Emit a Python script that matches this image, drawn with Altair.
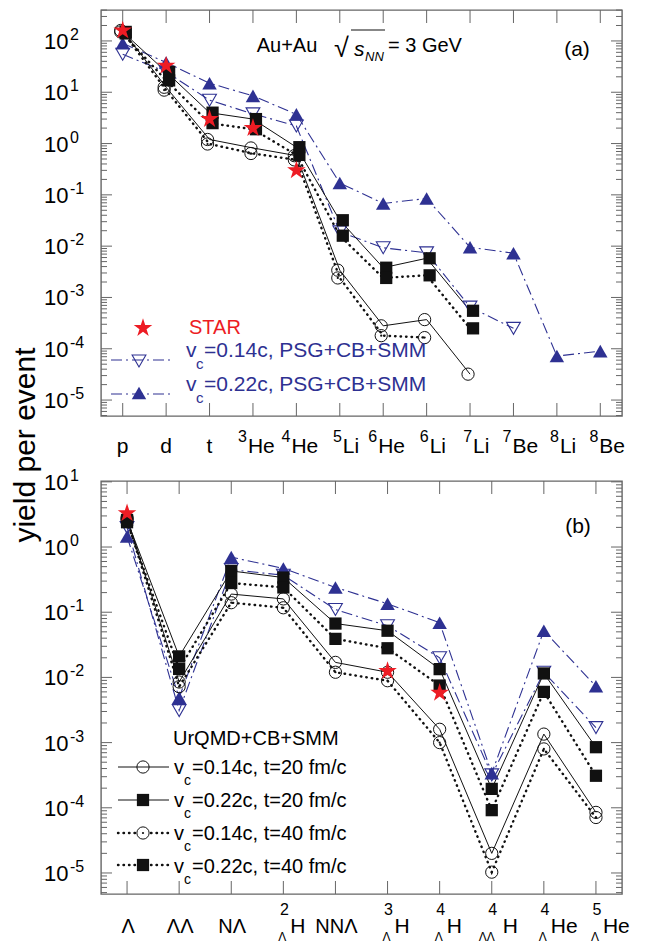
import altair as alt
import pandas as pd

N = None
# ---------------- panel (a) data ----------------
top_cats = ["p", "d", "t", "3He", "4He", "5Li", "6He", "6Li", "7Li", "7Be", "8Li", "8Be"]
top_main = ["p", "d", "t", "He", "He", "Li", "He", "Li", "Li", "Be", "Li", "Be"]
top_sup = ["", "", "", "3", "4", "5", "6", "6", "7", "7", "8", "8"]

top_star = [160, 33, 3.0, 2.0, 0.30, N, N, N, N, N, N, N]
top_c20 = [160, 12.5, 1.2, 0.82, 0.58, 3.4e-3, 2.8e-4, 3.7e-4, 3.2e-5, N, N, N]
top_c40 = [150, 11, 0.98, 0.64, 0.48, 2.4e-3, 1.8e-4, 1.65e-4, N, N, N, N]
top_s20 = [150, 25, 4.0, 3.0, 0.85, 0.032, 3.8e-3, 5.8e-3, 5.5e-4, N, N, N]
top_s40 = [140, 17, 2.5, 1.9, 0.60, 0.016, 2.4e-3, 2.7e-3, 2.5e-4, N, N, N]
top_p14 = [55, 25, 7.0, 3.8, 2.2, 0.019, 9.3e-3, 7.4e-3, 6.5e-4, 2.5e-4, N, N]
top_p22 = [90, 38, 15, 8.5, 3.7, 0.17, 0.068, 0.085, 9.5e-3, 7.3e-3, 7.2e-5, 9.0e-5]

# ---------------- panel (b) data ----------------
bot_cats = ["L", "LL", "NL", "2LH", "NNL", "3LH", "4LH", "4LLH", "4LHe", "5LHe"]
bot_main = ["Λ", "ΛΛ", "NΛ", "H", "NNΛ", "H", "H", "H", "He", "He"]
bot_sup = ["", "", "", "2", "", "3", "4", "4", "4", "5"]
bot_sub = ["", "", "", "Λ", "", "Λ", "Λ", "ΛΛ", "Λ", "Λ"]

bot_star = [3.3, N, N, N, N, 0.0125, 0.0058, N, N, N]
bot_c20 = [2.8, 0.0085, 0.19, 0.16, 0.017, 0.012, 1.6e-3, 2.0e-5, 1.35e-3, 8.5e-5]
bot_c40 = [2.6, 0.0072, 0.14, 0.117, 0.012, 0.0089, 1.0e-3, 1.03e-5, 8.0e-4, 7.1e-5]
bot_s20 = [2.6, 0.021, 0.43, 0.34, 0.067, 0.052, 0.0134, 1.95e-4, 0.0115, 8.5e-4]
bot_s40 = [2.4, 0.0135, 0.28, 0.24, 0.039, 0.028, 0.0075, 9.2e-5, 0.0060, 3.1e-4]
bot_p14 = [2.0, 0.0031, 0.45, 0.37, 0.11, 0.062, 0.020, 3.2e-4, 0.012, 1.7e-3]
bot_p22 = [1.45, 0.0049, 0.70, 0.47, 0.24, 0.135, 0.069, 3.4e-4, 0.052, 0.0073]

top_decades = [1e-5, 1e-4, 1e-3, 1e-2, 1e-1, 1e0, 1e1, 1e2]
top_exps = ["-5", "-4", "-3", "-2", "-1", "0", "1", "2"]
bot_decades = [1e-5, 1e-4, 1e-3, 1e-2, 1e-1, 1e0, 1e1]
bot_exps = ["-5", "-4", "-3", "-2", "-1", "0", "1"]
minor_mult = [2, 3, 4, 5, 6, 7, 8, 9]

TOP_DOM = [4.89e-6, 401]
BOT_DOM = [4.76e-6, 10.3]
W = 521
HT = 406
HB = 413

FONT = "Liberation Sans"
BLUE = "#2e3192"
RED = "#ed1c24"
BLK = "#111111"
GRAY = "#666666"
STAR = ("M0,-1L0.2245,-0.309L0.9511,-0.309L0.3633,0.118L0.5878,0.809L0,0.382"
        "L-0.5878,0.809L-0.3633,0.118L-0.9511,-0.309L-0.2245,-0.309Z")
DOT = [0.5, 5]
DASHDOT = [11, 4, 2, 4]

one = pd.DataFrame({"a": [0]})


def series_df(cats, vals):
    rows = [{"cat": c, "idx": i, "v": v} for i, (c, v) in enumerate(zip(cats, vals)) if v is not None]
    return pd.DataFrame(rows)


def txt(text, x, y, size, color="black", align="left", baseline="middle", italic=False, angle=0):
    kw = dict(font=FONT, fontSize=size, color=color, align=align, baseline=baseline)
    if italic:
        kw["fontStyle"] = "italic"
    if angle:
        kw["angle"] = angle
    return alt.Chart(one).mark_text(**kw).encode(x=alt.value(x), y=alt.value(y), text=alt.value(text))


def hline(x1, x2, y, dash=None, width=1.0, color=BLK, cap=None):
    kw = dict(color=color, strokeWidth=width)
    if dash:
        kw["strokeDash"] = dash
    if cap:
        kw["strokeCap"] = cap
    return alt.Chart(one).mark_rule(**kw).encode(x=alt.value(x1), x2=alt.value(x2), y=alt.value(y))


def sym(x, y, **kw):
    return alt.Chart(one).mark_point(**kw).encode(x=alt.value(x), y=alt.value(y))


STYLES = {
    "p14": dict(line=dict(color=BLUE, strokeWidth=1.1, strokeDash=DASHDOT),
                mark=dict(shape="triangle-down", filled=False, size=190, color=BLUE, strokeWidth=1.1, opacity=1)),
    "p22": dict(line=dict(color=BLUE, strokeWidth=1.1, strokeDash=DASHDOT),
                mark=dict(shape="triangle-up", filled=True, size=210, color=BLUE, opacity=1)),
    "c20": dict(line=dict(color=BLK, strokeWidth=1.0),
                mark=dict(shape="circle", filled=False, size=150, color=BLK, strokeWidth=1.0, opacity=1)),
    "c40": dict(line=dict(color=BLK, strokeWidth=2.4, strokeDash=DOT, strokeCap="round"),
                mark=dict(shape="circle", filled=False, size=150, color=BLK, strokeWidth=1.0, opacity=1)),
    "s20": dict(line=dict(color=BLK, strokeWidth=1.0),
                mark=dict(shape="square", filled=True, size=150, color=BLK, opacity=1)),
    "s40": dict(line=dict(color=BLK, strokeWidth=2.4, strokeDash=DOT, strokeCap="round"),
                mark=dict(shape="square", filled=True, size=150, color=BLK, opacity=1)),
    "star": dict(line=None,
                 mark=dict(shape=STAR, filled=True, size=380, color=RED, opacity=1)),
}


def panel(cats, series, dom, H, decades, exps, xoffs):
    xs = alt.Scale(domain=cats, type="point", padding=0.5)
    ys = alt.Scale(type="log", domain=dom, nice=False)
    X = alt.X("cat:N", scale=xs, axis=None)
    Y = alt.Y("v:Q", scale=ys, axis=None)
    layers = []

    # ticks
    lo, hi = dom
    minors = [m * d for d in [1e-6] + decades for m in minor_mult]
    minors = [m for m in minors if lo < m < hi]
    maj_df = pd.DataFrame({"v": decades, "exp": exps})
    min_df = pd.DataFrame({"v": minors})
    cat_df = pd.DataFrame({"cat": cats})
    tk = dict(color=GRAY, strokeWidth=1)
    layers += [
        alt.Chart(maj_df).mark_rule(**tk).encode(y=Y, x=alt.value(0), x2=alt.value(11)),
        alt.Chart(maj_df).mark_rule(**tk).encode(y=Y, x=alt.value(W - 11), x2=alt.value(W)),
        alt.Chart(min_df).mark_rule(**tk).encode(y=Y, x=alt.value(0), x2=alt.value(6)),
        alt.Chart(min_df).mark_rule(**tk).encode(y=Y, x=alt.value(W - 6), x2=alt.value(W)),
        alt.Chart(cat_df).mark_rule(**tk).encode(x=X, y=alt.value(0), y2=alt.value(13)),
        alt.Chart(cat_df).mark_rule(**tk).encode(x=X, y=alt.value(H - 13), y2=alt.value(H)),
        alt.Chart(maj_df).mark_text(font=FONT, fontSize=22, align="left", baseline="middle", dy=1)
        .encode(y=Y, x=alt.value(-57), text=alt.value("10")),
        alt.Chart(maj_df).mark_text(font=FONT, fontSize=16, align="left", baseline="middle", dy=-6)
        .encode(y=Y, x=alt.value(-31), text="exp:N"),
    ]

    order = ["p14", "p22", "c20", "c40", "s20", "s40", "star"]
    dfs = {k: series_df(cats, series[k]) for k in order if k in series}
    for k in order:
        st = STYLES[k]
        if st["line"] is not None:
            layers.append(alt.Chart(dfs[k]).mark_line(**st["line"]).encode(
                x=X, y=Y, order=alt.Order("idx:Q")))
    for k in ["p22", "p14", "c20", "c40", "s20", "s40", "star"]:
        st = STYLES[k]
        mk = dict(st["mark"])
        off = xoffs.get(k, 0)
        if off:
            mk["xOffset"] = off
        layers.append(alt.Chart(dfs[k]).mark_point(**mk).encode(x=X, y=Y))
        if k == "c40":
            d = dict(shape="circle", filled=True, size=5, color=BLK, opacity=1)
            if off:
                d["xOffset"] = off
            layers.append(alt.Chart(dfs[k]).mark_point(**d).encode(x=X, y=Y))
    return layers, X


# ---------------- top panel ----------------
top_series = dict(star=top_star, c20=top_c20, c40=top_c40, s20=top_s20, s40=top_s40, p14=top_p14, p22=top_p22)
tl, TX = panel(top_cats, top_series, TOP_DOM, HT, top_decades, top_exps, {"c20": -2, "c40": -2, "s20": 3, "s40": 3})

lab = pd.DataFrame({"cat": top_cats, "main": top_main, "sup": top_sup})
simple = lab[lab["sup"] == ""]
tl.append(alt.Chart(simple).mark_text(font=FONT, fontSize=21, align="center", baseline="middle")
          .encode(x=TX, y=alt.value(HT + 31), text="main:N"))
for m, dxm in [("He", -5), ("Li", 3), ("Be", -1)]:
    sub = lab[lab["main"] == m]
    tl.append(alt.Chart(sub).mark_text(font=FONT, fontSize=21, align="left", baseline="middle", dx=dxm)
              .encode(x=TX, y=alt.value(HT + 31), text="main:N"))
    tl.append(alt.Chart(sub).mark_text(font=FONT, fontSize=16, align="right", baseline="middle", dx=dxm - 1)
              .encode(x=TX, y=alt.value(HT + 21), text="sup:N"))

# annotations
tl += [
    txt("Au+Au", 186, 42, 20, align="center", baseline="alphabetic"),
    txt("√", 233, 47, 27, baseline="alphabetic"),
    hline(250, 284, 20, width=1.1, color=BLK),
    txt("s", 253, 46, 21, italic=True, baseline="alphabetic"),
    txt("NN", 264, 51, 13, italic=True, baseline="alphabetic"),
    txt("= 3 GeV", 287, 42, 20, baseline="alphabetic"),
    txt("(a)", 476, 40, 21, align="center"),
    # legend
    sym(42, 318, shape=STAR, filled=True, size=380, color=RED, opacity=1),
    txt("STAR", 88, 318, 20, color=RED),
    hline(10, 70, 350, dash=DASHDOT, width=1.1, color=BLUE),
    sym(38, 351, shape="triangle-down", filled=False, size=190, color=BLUE, strokeWidth=1.1, opacity=1),
    txt("v", 85, 341, 21, color=BLUE),
    txt("c", 95, 354, 15, color=BLUE),
    txt("=0.14c, PSG+CB+SMM", 103, 341, 21, color=BLUE),
    hline(10, 70, 384, dash=DASHDOT, width=1.1, color=BLUE),
    sym(38, 383, shape="triangle-up", filled=True, size=210, color=BLUE, opacity=1),
    txt("v", 85, 375, 21, color=BLUE),
    txt("c", 95, 388, 15, color=BLUE),
    txt("=0.22c, PSG+CB+SMM", 103, 375, 21, color=BLUE),
    # y title
    txt("yield per event", -66, 435, 30, align="center", baseline="alphabetic", angle=270),
    # bounds anchor
    alt.Chart(one).mark_rule(strokeOpacity=0, strokeWidth=0.1).encode(
        x=alt.value(-92), x2=alt.value(-91), y=alt.value(5)),
]
top = alt.layer(*tl).properties(width=W, height=HT)

# ---------------- bottom panel ----------------
bot_series = dict(star=bot_star, c20=bot_c20, c40=bot_c40, s20=bot_s20, s40=bot_s40, p14=bot_p14, p22=bot_p22)
bl, BX = panel(bot_cats, bot_series, BOT_DOM, HB, bot_decades, bot_exps, {})

blab = pd.DataFrame({"cat": bot_cats, "main": bot_main, "sup": bot_sup, "sub": bot_sub})
bs = blab[blab["sup"] == ""]
bp1 = blab[(blab["sup"] != "") & (blab["sub"] == "Λ")]
bp2 = blab[blab["sub"] == "ΛΛ"]
bl += [
    alt.Chart(bs).mark_text(font=FONT, fontSize=20, align="center", baseline="middle", dx=1)
    .encode(x=BX, y=alt.value(HB + 33), text="main:N"),
    alt.Chart(bp1).mark_text(font=FONT, fontSize=21, align="left", baseline="middle", dx=7)
    .encode(x=BX, y=alt.value(HB + 33), text="main:N"),
    alt.Chart(bp2).mark_text(font=FONT, fontSize=21, align="left", baseline="middle", dx=11)
    .encode(x=BX, y=alt.value(HB + 33), text="main:N"),
    alt.Chart(blab[blab["sup"] != ""]).mark_text(font=FONT, fontSize=16, align="center", baseline="middle", dx=1)
    .encode(x=BX, y=alt.value(HB + 16), text="sup:N"),
    alt.Chart(bp1).mark_text(font=FONT, fontSize=12, align="center", baseline="middle", dx=-1)
    .encode(x=BX, y=alt.value(HB + 43), text="sub:N"),
    alt.Chart(bp2).mark_text(font=FONT, fontSize=12, align="center", baseline="middle", dx=-5)
    .encode(x=BX, y=alt.value(HB + 43), text="sub:N"),
]

bl += [
    txt("(b)", 477, 46, 21, align="center"),
    txt("UrQMD+CB+SMM", 72, 258, 20),
    # row 1
    hline(17, 68, 286, width=1.0),
    sym(42, 286, shape="circle", filled=False, size=150, color=BLK, strokeWidth=1.0, opacity=1),
    txt("v", 73, 287, 20), txt("c", 83, 300, 14), txt("=0.14c, t=20 fm/c", 91, 287, 20),
    # row 2
    hline(17, 68, 319, width=1.0),
    sym(42, 319, shape="square", filled=True, size=150, color=BLK, opacity=1),
    txt("v", 73, 320, 20), txt("c", 83, 333, 14), txt("=0.22c, t=20 fm/c", 91, 320, 20),
    # row 3
    hline(17, 68, 352, dash=DOT, width=2.4, cap="round"),
    sym(42, 352, shape="circle", filled=True, size=150, color="white", opacity=1),
    sym(42, 352, shape="circle", filled=False, size=150, color=BLK, strokeWidth=1.0, opacity=1),
    sym(42, 352, shape="circle", filled=True, size=5, color=BLK, opacity=1),
    txt("v", 73, 353, 20), txt("c", 83, 366, 14), txt("=0.14c, t=40 fm/c", 91, 353, 20),
    # row 4
    hline(17, 68, 384, dash=DOT, width=2.4, cap="round"),
    sym(42, 384, shape="square", filled=True, size=150, color=BLK, opacity=1),
    txt("v", 73, 386, 20), txt("c", 83, 399, 14), txt("=0.22c, t=40 fm/c", 91, 386, 20),
]
bottom = alt.layer(*bl).properties(width=W, height=HB)

chart = (
    alt.vconcat(top, bottom, spacing=65, bounds="flush")
    .properties(padding=0)
    .configure_view(stroke=GRAY, strokeWidth=1.4)
)
chart.save("out.html", embed_options={"renderer": "svg", "actions": False})
